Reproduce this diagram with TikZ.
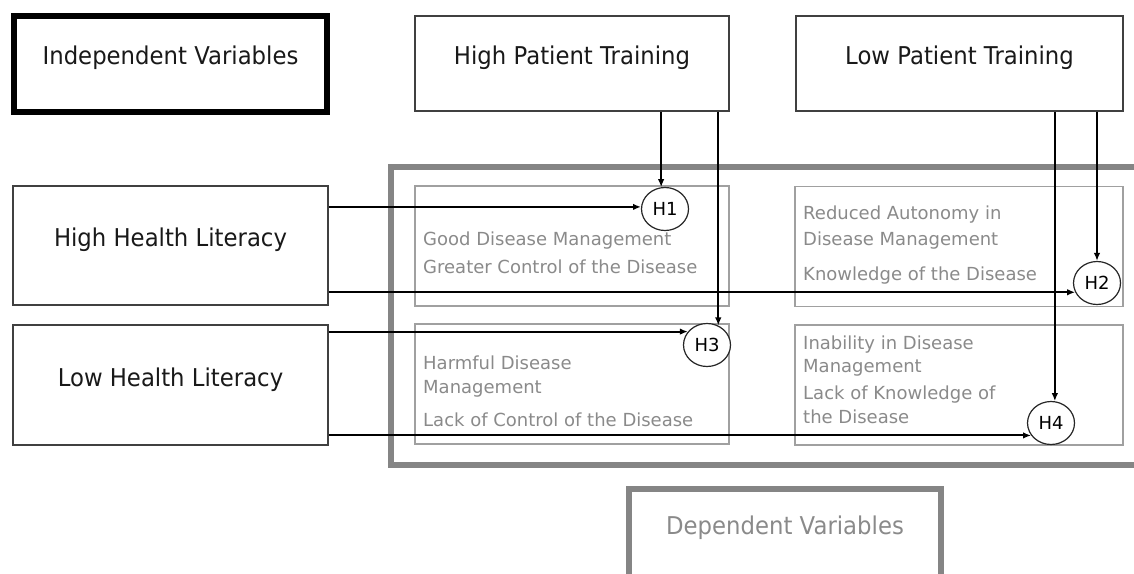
\documentclass[tikz,border=0pt]{standalone}
\usepackage{fontspec}
\newfontfamily\boxfont[FakeStretch=0.93]{DejaVu Sans}
\newfontfamily\cellfont{DejaVu Sans}
\usetikzlibrary{arrows.meta,shapes.geometric}

\definecolor{boxline}{HTML}{404040}
\definecolor{cellline}{HTML}{A0A0A0}
\definecolor{celltext}{HTML}{8A8A8A}
\definecolor{framegray}{HTML}{858585}

\begin{document}
\begin{tikzpicture}[x=1pt,y=-1pt,
    varbox/.style={draw=boxline,line width=1.5pt,fill=white,minimum width=314pt,minimum height=95pt,
      inner sep=0pt,text=black!90,font=\boxfont\fontsize{24.5}{28}\selectfont,text height=18pt,text depth=16pt},
    cell/.style={draw=cellline,line width=1.2pt,minimum height=120pt,inner sep=0pt},
    celltxt/.style={anchor=north west,inner sep=0pt,align=left,text=celltext,
      font=\cellfont\fontsize{18}{24}\selectfont},
    hyp/.style={ellipse,draw=black!85,line width=1.2pt,fill=white,minimum width=47pt,minimum height=43pt,
      inner sep=0pt,font=\cellfont\fontsize{18}{20}\selectfont},
    arr/.style={line width=2pt,-{Latex[length=8pt,width=6.5pt]}}]
    \useasboundingbox (0,0) rectangle (1134,573);

    % frame of the dependent variables
    \begin{scope}
        \clip (0,0) rectangle (1134,573);
        \draw[framegray,line width=6pt] (391,167) rectangle (1160,464.5);
        \node[draw=framegray,line width=6pt,minimum width=312pt,inner xsep=0pt,inner ysep=0pt,
            text=celltext,font=\boxfont\fontsize{24.5}{28}\selectfont,text height=45.7pt,text depth=50pt,
            anchor=north] (dv) at (785,486) {Dependent Variables};
    \end{scope}

    % independent variables
    \node[varbox,draw=black,line width=6pt,minimum width=313pt,minimum height=96pt] (iv) at (170.5,63.5) {Independent Variables};
    \node[varbox] (hpt) at (572,63.5) {High Patient Training};
    \node[varbox,minimum width=327pt] (lpt) at (959.5,63.5) {Low Patient Training};
    \node[varbox,minimum width=315pt,minimum height=119pt] (hhl) at (170.5,245.5) {High Health Literacy};
    \node[varbox,minimum width=315pt,minimum height=120pt] (lhl) at (170.5,385) {Low Health Literacy};

    % outcome cells
    \node[cell,minimum width=314pt] (c1) at (572,246) {};
    \node[cell,minimum width=328pt] (c2) at (959,246.5) {};
    \node[cell,minimum width=314pt] (c3) at (572,384) {};
    \node[cell,minimum width=328pt] (c4) at (959,385) {};
    \node[celltxt] (t1) at (423,231.3) {Good Disease Management\\[4pt]Greater Control of the Disease};
    \node[celltxt] (t2) at (803,205.3) {Reduced Autonomy in\\[2pt]Disease Management\\[11pt]Knowledge of the Disease};
    \node[celltxt] (t3) at (423,355.6) {Harmful Disease\\Management\\[9pt]Lack of Control of the Disease};
    \node[celltxt] (t4) at (803,335.6) {Inability in Disease\\[-1pt]Management\\[3pt]Lack of Knowledge of\\the Disease};

    % hypotheses
    \node[hyp] (h1) at (665,209) {H1};
    \node[hyp] (h2) at (1097,283) {H2};
    \node[hyp] (h3) at (707,345) {H3};
    \node[hyp] (h4) at (1051,423) {H4};

    \draw[arr] (hhl.east |- h1.175) -- (h1.175);
    \draw[arr] (hhl.east |- h2.203) -- (h2.203);
    \draw[arr] (lhl.east |- h3.145) -- (h3.145);
    \draw[arr] (lhl.east |- h4.212) -- (h4.212);
    \draw[arr] (hpt.south -| h1.100) -- (h1.100);
    \draw[arr] (hpt.south -| h3.60) -- (h3.60);
    \draw[arr] (lpt.south -| h2.north) -- (h2.north);
    \draw[arr] (lpt.south -| h4.80) -- (h4.80);
\end{tikzpicture}
\end{document}
